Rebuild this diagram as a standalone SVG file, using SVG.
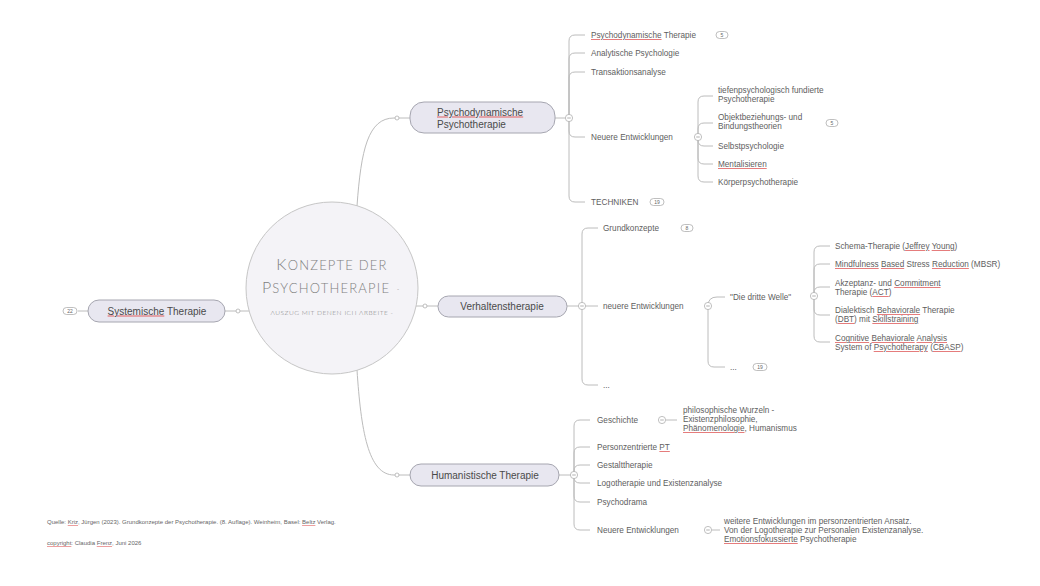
<svg xmlns="http://www.w3.org/2000/svg" width="1040" height="586" viewBox="0 0 1040 586">
<style>
.conn{fill:none;stroke:#bcbcbc;stroke-width:1}
.node{fill:#e8e7f0;stroke:#a6a6b0;stroke-width:1}
.nt{font-family:"Liberation Sans",Arial,sans-serif;font-size:10px;fill:#4a4a4a}
.t{font-family:"Liberation Sans",Arial,sans-serif;font-size:8.2px;fill:#5e5e5e}
.small{font-family:"Liberation Sans",Arial,sans-serif;font-size:6px;fill:#666}
.tog{fill:#fff;stroke:#b0b0b0;stroke-width:0.8}
.togm{stroke:#a0a0a0;stroke-width:0.8}
.dot{fill:#fff;stroke:#b0b0b0;stroke-width:0.8}
.badge{fill:#fff;stroke:#a4a4a4;stroke-width:0.7}
.bt{font-family:"Liberation Sans",Arial,sans-serif;font-size:5px;fill:#666;text-anchor:middle}
.sp{fill:#e06060;text-decoration:underline}
.nt .sp>tspan{fill:#4a4a4a}
.t .sp>tspan{fill:#5e5e5e}
.small .sp>tspan{fill:#666}
.ct{font-family:Lato,"Open Sans",sans-serif;font-weight:300;fill:#7f7f7f;text-anchor:middle}
</style>
<defs>
<g id="toggle"><circle r="3.6" class="tog"/><line x1="-1.8" y1="0" x2="1.8" y2="0" class="togm"/></g>
</defs>

<g id="connectors">
<path class="conn" d="M357,206 C361,150 368,118 394,118 L410,118"/>
<path class="conn" d="M357,370 C361,430 368,475 394,475 L410,475"/>
<path class="conn" d="M416,306 L438,306"/>
<path class="conn" d="M249,311 L225,311"/>
<path class="conn" d="M78,311 L88,311"/>
<path class="conn" d="M555,118 L566,118"/>
<path class="conn" d="M567,306 L579,306"/>
<path class="conn" d="M559,475 L571,475"/>
<path class="conn" d="M569,118 L569,41 Q569,35 575,35 L585,35"/>
<path class="conn" d="M569,118 L569,59 Q569,53 575,53 L585,53"/>
<path class="conn" d="M569,118 L569,78 Q569,72 575,72 L585,72"/>
<path class="conn" d="M569,118 L569,131 Q569,137 575,137 L585,137"/>
<path class="conn" d="M569,118 L569,196 Q569,202 575,202 L585,202"/>
<path class="conn" d="M698,137 L698,102 Q698,96 704,96 L713,96"/>
<path class="conn" d="M698,137 L698,129 Q698,123 704,123 L713,123"/>
<path class="conn" d="M698,137 L698,140 Q698,146 704,146 L713,146"/>
<path class="conn" d="M698,137 L698,158 Q698,164 704,164 L713,164"/>
<path class="conn" d="M698,137 L698,176 Q698,182 704,182 L713,182"/>
<path class="conn" d="M582,306 L582,234 Q582,228 588,228 L598,228"/>
<path class="conn" d="M582,306 L598,306"/>
<path class="conn" d="M582,306 L582,379 Q582,385 588,385 L598,385"/>
<path class="conn" d="M708,306 Q708,297 717,297 L725,297"/>
<path class="conn" d="M708,306 L708,361 Q708,367 714,367 L725,367"/>
<path class="conn" d="M814,296 L814,252 Q814,246 820,246 L830,246"/>
<path class="conn" d="M814,296 L814,270 Q814,264 820,264 L830,264"/>
<path class="conn" d="M814,296 L814,293 Q814,287 820,287 L830,287"/>
<path class="conn" d="M814,296 L814,309 Q814,315 820,315 L830,315"/>
<path class="conn" d="M814,296 L814,336 Q814,342 820,342 L830,342"/>
<path class="conn" d="M574,475 L574,426 Q574,420 580,420 L590,420"/>
<path class="conn" d="M574,475 L574,453 Q574,447 580,447 L590,447"/>
<path class="conn" d="M574,475 L574,471 Q574,465 580,465 L590,465"/>
<path class="conn" d="M574,475 L574,477 Q574,483 580,483 L590,483"/>
<path class="conn" d="M574,475 L574,496 Q574,502 580,502 L590,502"/>
<path class="conn" d="M574,475 L574,524 Q574,530 580,530 L590,530"/>
<path class="conn" d="M666,420 L677,420"/>
<path class="conn" d="M712,530 L720,530"/>
<circle class="dot" cx="397" cy="118" r="2"/>
<circle class="dot" cx="397" cy="475" r="2"/>
<circle class="dot" cx="425" cy="306" r="2"/>
<circle class="dot" cx="238" cy="311" r="2"/>
<use href="#toggle" x="569" y="118"/>
<use href="#toggle" x="698" y="137"/>
<use href="#toggle" x="582" y="306"/>
<use href="#toggle" x="708" y="306"/>
<use href="#toggle" x="814" y="296"/>
<use href="#toggle" x="574" y="475"/>
<use href="#toggle" x="662" y="420"/>
<use href="#toggle" x="708" y="530"/>
</g>

<g id="central">
<circle cx="332" cy="288" r="86" fill="#f4f3f7" stroke="#c6c6c6" stroke-width="1"/>
<text class="ct" x="332" y="270" font-size="13" letter-spacing="1.2"><tspan font-size="16">K</tspan>ONZEPTE DER</text>
<text class="ct" x="326" y="293" font-size="13" letter-spacing="1.2"><tspan font-size="16">P</tspan>SYCHOTHERAPIE</text>
<text class="ct" x="398" y="292" font-size="7">-</text>
<text class="ct" x="332" y="315" font-size="6.6" font-weight="400" letter-spacing="0.5">AUSZUG MIT DENEN ICH ARBEITE -</text>
</g>

<g id="node-psychodynamisch">
<rect class="node" x="410" y="102" width="145" height="31" rx="14"/>
<text class="nt" x="437" y="115.5"><tspan class="sp"><tspan>Psychodynamische</tspan></tspan></text>
<text class="nt" x="437" y="127.5">Psychotherapie</text>
</g>
<g id="pd-children">
<text class="t" x="591" y="38"><tspan class="sp"><tspan>Psychodynamische</tspan></tspan> Therapie</text>
<rect class="badge" x="716" y="31.5" width="12" height="7" rx="3.5"/><text class="bt" x="722" y="36.8">5</text>
<text class="t" x="591" y="56">Analytische Psychologie</text>
<text class="t" x="591" y="75">Transaktionsanalyse</text>
<text class="t" x="591" y="140">Neuere Entwicklungen</text>
<text class="t" x="591" y="205">TECHNIKEN</text>
<rect class="badge" x="650" y="198.5" width="14" height="7" rx="3.5"/><text class="bt" x="657" y="203.8">19</text>
</g>
<g id="pd-neuere">
<text class="t" x="718" y="93">tiefenpsychologisch fundierte</text>
<text class="t" x="718" y="102">Psychotherapie</text>
<text class="t" x="718" y="120">Objektbeziehungs- und</text>
<text class="t" x="718" y="129">Bindungstheorien</text>
<rect class="badge" x="826" y="119.5" width="12" height="7" rx="3.5"/><text class="bt" x="832" y="124.8">5</text>
<text class="t" x="718" y="149">Selbstpsychologie</text>
<text class="t" x="718" y="167"><tspan class="sp"><tspan>Mentalisieren</tspan></tspan></text>
<text class="t" x="718" y="185">Körperpsychotherapie</text>
</g>

<g id="node-verhaltenstherapie">
<rect class="node" x="438" y="296" width="129" height="21" rx="10.5"/>
<text class="nt" x="502" y="309.5" text-anchor="middle">Verhaltenstherapie</text>
</g>
<g id="vt-children">
<text class="t" x="603" y="231">Grundkonzepte</text>
<rect class="badge" x="681" y="224.5" width="12" height="7" rx="3.5"/><text class="bt" x="687" y="229.8">8</text>
<text class="t" x="603" y="309">neuere Entwicklungen</text>
<text class="t" x="603" y="388">...</text>
<text class="t" x="730" y="300">"Die dritte Welle"</text>
<text class="t" x="730" y="370">...</text>
<rect class="badge" x="753" y="363.5" width="14" height="7" rx="3.5"/><text class="bt" x="760" y="368.8">19</text>
</g>
<g id="dritte-welle">
<text class="t" x="835" y="249">Schema-Therapie (<tspan class="sp"><tspan>Jeffrey</tspan></tspan> <tspan class="sp"><tspan>Young</tspan></tspan>)</text>
<text class="t" x="835" y="267"><tspan class="sp"><tspan>Mindfulness</tspan></tspan> <tspan class="sp"><tspan>Based</tspan></tspan> Stress <tspan class="sp"><tspan>Reduction</tspan></tspan> (MBSR)</text>
<text class="t" x="835" y="286">Akzeptanz- und <tspan class="sp"><tspan>Commitment</tspan></tspan></text>
<text class="t" x="835" y="295">Therapie (<tspan class="sp"><tspan>ACT</tspan></tspan>)</text>
<text class="t" x="835" y="313">Dialektisch <tspan class="sp"><tspan>Behaviorale</tspan></tspan> Therapie</text>
<text class="t" x="835" y="322">(<tspan class="sp"><tspan>DBT</tspan></tspan>) mit <tspan class="sp"><tspan>Skillstraining</tspan></tspan></text>
<text class="t" x="835" y="341"><tspan class="sp"><tspan>Cognitive</tspan></tspan> <tspan class="sp"><tspan>Behaviorale</tspan></tspan> <tspan class="sp"><tspan>Analysis</tspan></tspan></text>
<text class="t" x="835" y="350">System of <tspan class="sp"><tspan>Psychotherapy</tspan></tspan> (<tspan class="sp"><tspan>CBASP</tspan></tspan>)</text>
</g>

<g id="node-humanistisch">
<rect class="node" x="410" y="464" width="149" height="22" rx="11"/>
<text class="nt" x="485" y="478.5" text-anchor="middle">Humanistische Therapie</text>
</g>
<g id="hum-children">
<text class="t" x="597" y="423">Geschichte</text>
<text class="t" x="597" y="450">Personzentrierte <tspan class="sp"><tspan>PT</tspan></tspan></text>
<text class="t" x="597" y="468">Gestalttherapie</text>
<text class="t" x="597" y="486">Logotherapie und Existenzanalyse</text>
<text class="t" x="597" y="505">Psychodrama</text>
<text class="t" x="597" y="533">Neuere Entwicklungen</text>
<text class="t" x="683" y="413">philosophische Wurzeln -</text>
<text class="t" x="683" y="422">Existenzphilosophie,</text>
<text class="t" x="683" y="431"><tspan class="sp"><tspan>Phänomenologie</tspan></tspan>, Humanismus</text>
<text class="t" x="724" y="524">weitere Entwicklungen im personzentrierten Ansatz.</text>
<text class="t" x="724" y="533">Von der Logotherapie zur Personalen Existenzanalyse.</text>
<text class="t" x="724" y="542"><tspan class="sp"><tspan>Emotionsfokussierte</tspan></tspan> Psychotherapie</text>
</g>

<g id="node-systemisch">
<rect class="node" x="88" y="300" width="137" height="22" rx="11"/>
<text class="nt" x="157" y="314.5" text-anchor="middle"><tspan class="sp"><tspan>Systemische</tspan></tspan> Therapie</text>
<rect class="badge" x="63" y="307.5" width="14" height="7" rx="3.5"/><text class="bt" x="70" y="312.8">22</text>
</g>

<g id="footer">
<text class="small" x="47" y="524">Quelle: <tspan class="sp"><tspan>Kriz</tspan></tspan>, Jürgen (2023). Grundkonzepte der Psychotherapie. (8. Auflage). Weinheim, Basel: <tspan class="sp"><tspan>Beltz</tspan></tspan> Verlag.</text>
<text class="small" x="47" y="545"><tspan class="sp"><tspan>copyright</tspan></tspan>: Claudia <tspan class="sp"><tspan>Frenz</tspan></tspan>, Juni 2026</text>
</g>
</svg>
